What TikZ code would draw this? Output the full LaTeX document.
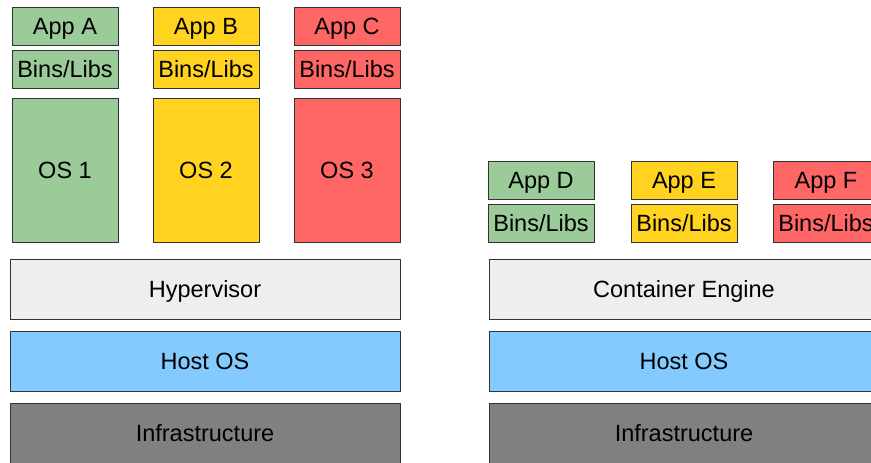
\documentclass[tikz,border=0pt]{standalone}
\usepackage{fontspec}
\setmainfont{Liberation Sans}
\usepackage{tikz}
\usetikzlibrary{positioning}

\definecolor{vmgreen}{HTML}{9BCB98}
\definecolor{vmyellow}{HTML}{FFD320}
\definecolor{vmred}{HTML}{FF6666}
\definecolor{hostblue}{HTML}{83CAFF}
\definecolor{layergray}{HTML}{EEEEEE}
\definecolor{infragray}{HTML}{808080}

\tikzset{
    box/.style={draw=black!80, line width=0.5pt, inner sep=0pt, outer sep=0pt,
        text height=0.86em, text depth=0pt,
        font=\fontsize{11.75}{14}\selectfont},
    appbox/.style={box, minimum width=53pt, minimum height=19pt},
    osbox/.style={box, minimum width=53pt, minimum height=72pt},
    layerbox/.style={box, minimum width=195pt, minimum height=30pt}
}

\begin{document}
\begin{tikzpicture}[x=0.5pt, y=-0.5pt]
        \clip (0,0) rectangle (871,462);

        % virtual machines
        \node[appbox, fill=vmgreen] (appA) at (65,26) {App A};
        \node[appbox, fill=vmyellow] (appB) at (206,26) {App B};
        \node[appbox, fill=vmred] (appC) at (347,26) {App C};
        \node[appbox, fill=vmgreen] (binsA) at (65,69) {Bins/Libs};
        \node[appbox, fill=vmyellow] (binsB) at (206,69) {Bins/Libs};
        \node[appbox, fill=vmred] (binsC) at (347,69) {Bins/Libs};
        \node[osbox, fill=vmgreen] (osA) at (65,170) {OS 1};
        \node[osbox, fill=vmyellow] (osB) at (206,170) {OS 2};
        \node[osbox, fill=vmred] (osC) at (347,170) {OS 3};

        \node[layerbox, fill=layergray] (hyper) at (205,289) {Hypervisor};
        \node[layerbox, fill=hostblue] (hostL) at (205,361) {Host OS};
        \node[layerbox, fill=infragray] (infraL) at (205,433) {Infrastructure};

        % containers
        \node[appbox, fill=vmgreen] (appD) at (541,180) {App D};
        \node[appbox, fill=vmyellow] (appE) at (684,180) {App E};
        \node[appbox, fill=vmred] (appF) at (826,180) {App F};
        \node[appbox, fill=vmgreen] (binsD) at (541,223) {Bins/Libs};
        \node[appbox, fill=vmyellow] (binsE) at (684,223) {Bins/Libs};
        \node[appbox, fill=vmred] (binsF) at (826,223) {Bins/Libs};

        \node[layerbox, fill=layergray] (engine) at (684,289) {Container Engine};
        \node[layerbox, fill=hostblue] (hostR) at (684,361) {Host OS};
        \node[layerbox, fill=infragray] (infraR) at (684,433) {Infrastructure};
    \end{tikzpicture}
\end{document}
